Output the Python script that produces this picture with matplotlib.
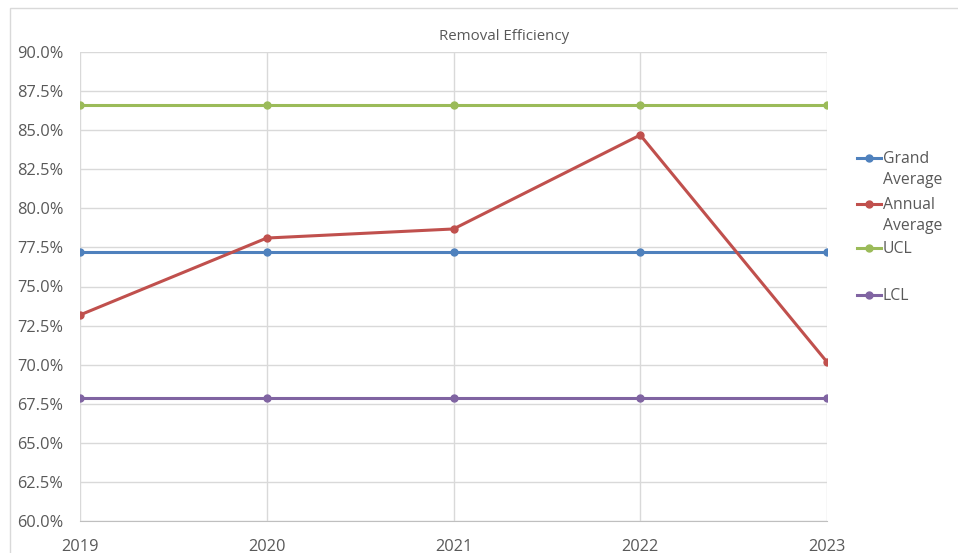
import matplotlib
matplotlib.use("Agg")
import matplotlib.pyplot as plt
from matplotlib.lines import Line2D
from matplotlib.patches import Rectangle
import numpy as np

years = [2019, 2020, 2021, 2022, 2023]
grand_avg = [77.21, 77.21, 77.21, 77.21, 77.21]
annual_avg = [73.18, 78.10, 78.68, 84.69, 70.17]
ucl = [86.61, 86.61, 86.61, 86.61, 86.61]
lcl = [67.87, 67.87, 67.87, 67.87, 67.87]

series = [
    ("Grand\nAverage", grand_avg, "#4F81BD"),
    ("Annual\nAverage", annual_avg, "#C0504D"),
    ("UCL", ucl, "#9BBB59"),
    ("LCL", lcl, "#8064A2"),
]

plt.rcParams['font.family'] = ['Open Sans', 'DejaVu Sans']
txt = "#595959"
grid = "#D9D9D9"

fig = plt.figure(figsize=(9.58, 5.53), dpi=100)
fig.patches.append(Rectangle((10 / 958, -0.1), 1.2, (553 - 8) / 553 + 0.1,
                             transform=fig.transFigure, fill=False,
                             edgecolor=grid, linewidth=1))

ax = fig.add_axes([80 / 958, 32 / 553, (827 - 80) / 958, (521 - 52) / 553])
for label, vals, col in series:
    ax.plot(years, vals, color=col, linewidth=2.2, marker="o", markersize=5, zorder=3)

ax.set_xlim(2019, 2023)
ax.set_ylim(60, 90)
ax.set_yticks(np.arange(60, 90.1, 2.5))
ax.set_yticklabels([f"{v:.1f}%" for v in np.arange(60, 90.1, 2.5)])
ax.set_xticks(years)
ax.grid(True, color=grid, linewidth=1)
ax.set_axisbelow(True)
for s in ["top", "right", "left"]:
    ax.spines[s].set_visible(False)
ax.spines["bottom"].set_color("#BFBFBF")
ax.tick_params(length=0, labelsize=11.8, colors=txt)
ax.tick_params(axis="x", pad=13)
ax.tick_params(axis="y", pad=12)
fig.text(504 / 958, 1 - 37 / 553, "Removal Efficiency", fontsize=10.8, color=txt,
         ha="center", va="center")

# legend drawn by hand to mimic wrapped entries
ys = [158, 204, 248, 295]
for (label, vals, col), y in zip(series, ys):
    yf = 1 - y / 553
    fig.add_artist(Line2D([857 / 958, 881 / 958], [yf, yf], color=col, linewidth=2.2,
                          transform=fig.transFigure))
    fig.add_artist(Line2D([869 / 958], [yf], color=col, marker="o", markersize=5,
                          transform=fig.transFigure))
    fig.text(883 / 958, yf + 7 / 553, label, fontsize=11.3, color=txt, va="top",
             linespacing=1.45, transform=fig.transFigure)

fig.savefig("out.png", dpi=100)
